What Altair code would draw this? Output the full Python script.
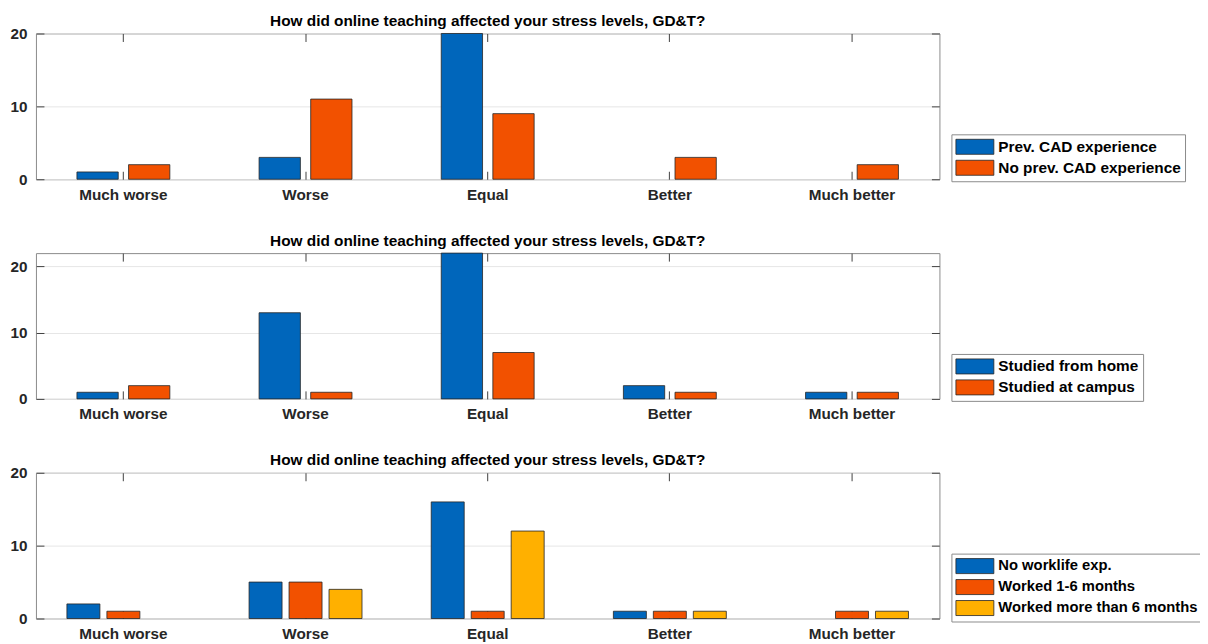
import altair as alt
import pandas as pd

categories = ["Much worse", "Worse", "Equal", "Better", "Much better"]
title_text = "How did online teaching affected your stress levels, GD&T?"

cad_series = ["Prev. CAD experience", "No prev. CAD experience"]
cad_prev = [1, 3, 20, 0, 0]
cad_none = [2, 11, 9, 3, 2]

loc_series = ["Studied from home", "Studied at campus"]
loc_home = [1, 13, 22, 2, 1]
loc_campus = [2, 1, 7, 1, 1]

work_series = ["No worklife exp.", "Worked 1-6 months", "Worked more than 6 months"]
work_none = [2, 5, 16, 1, 0]
work_short = [1, 5, 1, 1, 1]
work_long = [0, 4, 12, 1, 1]

palette = ["#0066BB", "#F25100", "#FFB000"]
y_ticks = [0, 10, 20]

FONT = "Liberation Sans"
W, H = 905, 146
TICK = 8


def panel(names, values, ymax, band_pad, off_pad, legend_y, title_offset,
          legend_font=15.4):
    rows = []
    for name, vals in zip(names, values):
        for c, v in zip(categories, vals):
            rows.append({"cat": c, "series": name, "v": v})
    df = pd.DataFrame(rows)
    xscale = alt.Scale(domain=categories, paddingInner=band_pad,
                       paddingOuter=(band_pad - 0.04) / 2)
    yscale = alt.Scale(domain=[0, ymax], nice=False, zero=True)
    base = alt.Chart(df)
    bars = base.mark_bar(stroke="#262626", strokeWidth=0.8).encode(
        x=alt.X("cat:N", scale=xscale, sort=categories, title=None,
                axis=alt.Axis(orient="bottom", offset=-TICK, tickSize=TICK,
                              domain=False, labelAngle=0, labelPadding=8,
                              grid=False, tickColor="#404040",
                              labelFont=FONT, labelFontSize=15.3,
                              labelFontWeight="bold", labelColor="#262626")),
        xOffset=alt.XOffset("series:N", sort=names,
                            scale=alt.Scale(domain=names, paddingInner=off_pad,
                                            paddingOuter=0)),
        y=alt.Y("v:Q", scale=yscale, title=None, stack=None,
                axis=alt.Axis(orient="left", values=y_ticks, offset=-TICK,
                              tickSize=TICK, domain=False, grid=True,
                              gridColor="#e6e6e6", tickColor="#404040",
                              labelPadding=9, labelFont=FONT,
                              labelFontSize=15.3, labelFontWeight="bold",
                              labelColor="#262626")),
        color=alt.Color("series:N", sort=names,
                        scale=alt.Scale(domain=names,
                                        range=palette[:len(names)]),
                        legend=alt.Legend(
                            title=None, orient="none", legendX=W + 12,
                            legendY=legend_y,
                            symbolType="M-1,-0.94H3.75V0.94H-1Z",
                            symbolSize=256, symbolOpacity=1,
                            symbolStrokeColor="#262626",
                            symbolStrokeWidth=0.8,
                            labelFont=FONT, labelFontSize=legend_font,
                            labelFontWeight="bold", labelColor="#000000",
                            labelLimit=400,
                            labelOffset=26, rowPadding=2, padding=4,
                            strokeColor="#8c8c8c", fillColor="white")),
    ).transform_filter("datum.v > 0")
    mirror = base.mark_bar(opacity=0).encode(
        x=alt.X("cat:N", scale=xscale, sort=categories, title=None,
                axis=alt.Axis(orient="top", offset=-TICK, tickSize=TICK,
                              domain=False, labels=False, grid=False,
                              tickColor="#404040")),
        y=alt.Y("v:Q", scale=yscale, title=None, stack=None,
                axis=alt.Axis(orient="right", values=y_ticks, offset=-TICK,
                              tickSize=TICK, domain=False, labels=False,
                              grid=False, tickColor="#404040")),
    )
    return alt.layer(bars, mirror).resolve_axis(
        x="independent", y="independent"
    ).properties(
        width=W, height=H,
        title=alt.TitleParams(title_text, font=FONT, fontSize=15.4,
                              fontWeight="bold", color="#000000",
                              anchor="middle", offset=title_offset),
    )


p1 = panel(cad_series, [cad_prev, cad_none], 20, 0.49, 0.2, 101, -3)
p2 = panel(loc_series, [loc_home, loc_campus], 22, 0.49, 0.2, 101, 3)
p3 = panel(work_series, [work_none, work_short, work_long], 20, 0.38, 0.175,
           81, -3, legend_font=14.8)

chart = alt.vconcat(p1, p2, p3, spacing=30).resolve_scale(
    color="independent", x="independent", y="independent", xOffset="independent"
).configure_view(
    stroke="#8c8c8c", strokeWidth=1
).properties(
    padding={"left": 1, "top": 5, "right": -3, "bottom": 0}
)

chart.save("out.html", embed_options={"renderer": "svg", "actions": False})
